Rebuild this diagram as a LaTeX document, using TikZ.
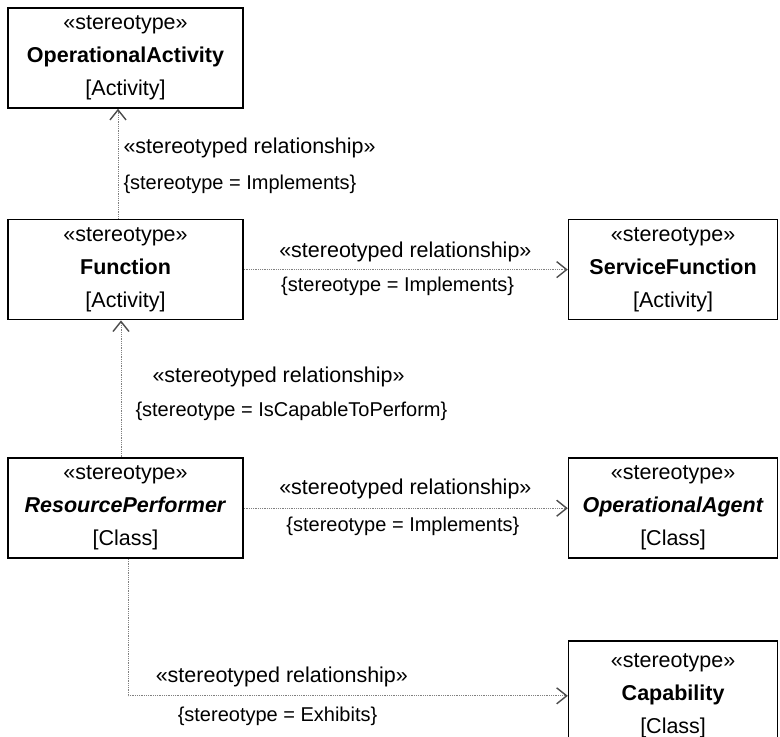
\documentclass[tikz,border=0pt]{standalone}
\usepackage{fontspec}
\setmainfont{Liberation Sans}
\usepackage{tikz}
\usetikzlibrary{arrows.meta, positioning}
\newcommand{\umlboxfont}{\fontsize{21.5}{33}\selectfont}
\newcommand{\umlrelfont}{\fontsize{21.5}{26}\selectfont}
\newcommand{\umlconsfont}{\fontsize{20}{24}\selectfont}

\begin{document}
\begin{tikzpicture}[
    x=1pt, y=1pt,
    box/.style={rectangle, draw, line width=1.6pt, minimum width=235pt, minimum height=100pt, inner sep=0pt, align=center, font=\umlboxfont},
    narrowbox/.style={box, minimum width=209pt},
    rel/.style={draw=black!50, line width=1pt, dash pattern=on 1pt off 0.8pt, -{Straight Barb[length=10pt, width=16pt, line width=1.4pt, color=black!70]}},
    rellbl/.style={font=\umlrelfont, inner sep=0pt, anchor=west},
    conslbl/.style={font=\umlconsfont, inner sep=0pt, anchor=west}
]
\useasboundingbox (0,0) rectangle (780,-737);
\clip (0,0) rectangle (780,-737);

\node[box] (oa) at (125.5,-58) {«stereotype»\\\textbf{OperationalActivity}\\{}[Activity]};
\node[box, below=110pt of oa] (fn) {«stereotype»\\\textbf{Function}\\{}[Activity]};
\node[box, below=137pt of fn] (rp) {«stereotype»\\\textbf{\textit{ResourcePerformer}}\\{}[Class]};
\node[narrowbox, right=324pt of fn] (sf) {«stereotype»\\\textbf{ServiceFunction}\\{}[Activity]};
\node[narrowbox, right=324pt of rp] (ag) {«stereotype»\\\textbf{\textit{OperationalAgent}}\\{}[Class]};
\node[narrowbox, below=81pt of ag, minimum height=110pt] (cap) {«stereotype»\\\textbf{Capability}\\{}[Class]};

\draw[rel] ([xshift=-7.5pt]fn.north) -- ([xshift=-7.5pt]oa.south)
    node[conslbl, pos=0.31, xshift=5pt] (fnoacons) {\{stereotype = Implements\}}
    node[rellbl, pos=0.645, xshift=5pt] (fnoarel) {«stereotyped relationship»};
\draw[rel] (fn) -- (sf)
    node[rellbl, pos=0.108, yshift=18pt] (fnsfrel) {«stereotyped relationship»}
    node[conslbl, pos=0.114, yshift=-17pt] (fnsfcons) {\{stereotype = Implements\}};
\draw[rel] ([xshift=-4.5pt]rp.north) -- ([xshift=-4.5pt]fn.south)
    node[conslbl, pos=0.336, xshift=14pt] (rpfncons) {\{stereotype = IsCapableToPerform\}}
    node[rellbl, pos=0.584, xshift=31pt] (rpfnrel) {«stereotyped relationship»};
\draw[rel] (rp) -- (ag)
    node[rellbl, pos=0.108, yshift=19pt] (rpagrel) {«stereotyped relationship»}
    node[conslbl, pos=0.13, yshift=-18pt] (rpagcons) {\{stereotype = Implements\}};
\draw[rel] ([xshift=2.5pt]rp.south) |- (cap.west)
    node[rellbl, pos=0.531, yshift=19pt] (rpcaprel) {«stereotyped relationship»}
    node[conslbl, pos=0.556, yshift=-21pt] (rpcapcons) {\{stereotype = Exhibits\}};
\end{tikzpicture}
\end{document}
